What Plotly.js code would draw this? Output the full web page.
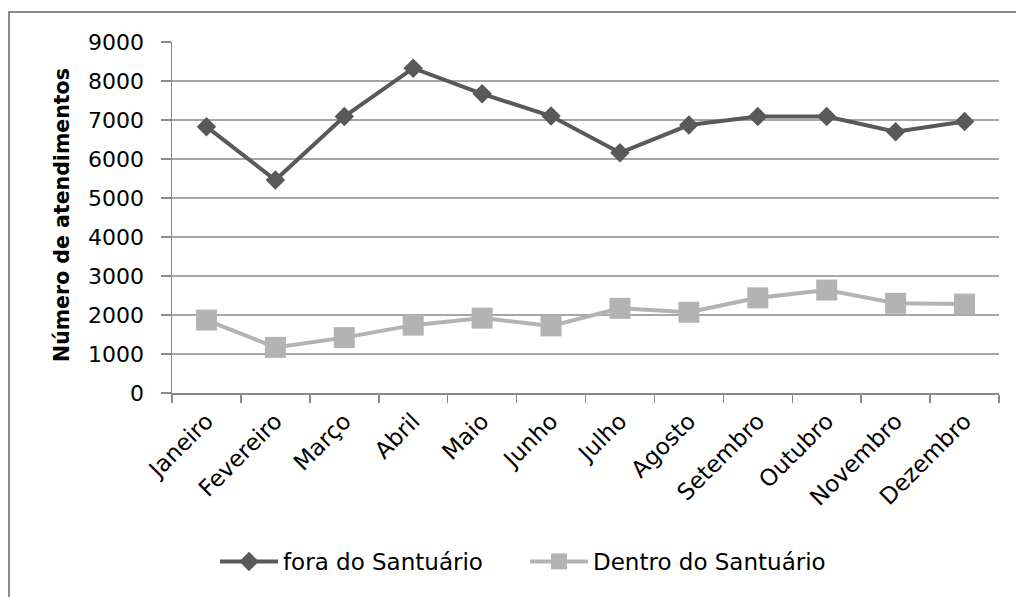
<!DOCTYPE html>
<html>
<head>
<meta charset="utf-8">
<script src="https://cdn.plot.ly/plotly-3.0.1.min.js"></script>
<style>
html, body { margin: 0; padding: 0; background: #fff; }
#wrap { position: relative; width: 1016px; height: 597px; overflow: hidden; }
#chart { width: 1016px; height: 597px; }
#frame { position: absolute; left: 8px; top: 11px; width: 1100px; height: 700px;
         border-left: 2px solid #8a8a8a; border-top: 2px solid #8a8a8a; pointer-events: none; }
</style>
</head>
<body>
<div id="wrap">
<div id="chart"></div>
<div id="frame"></div>
</div>
<script>
const months = ["Janeiro", "Fevereiro", "Março", "Abril", "Maio", "Junho", "Julho", "Agosto", "Setembro", "Outubro", "Novembro", "Dezembro"];
const foraSantuario = [6830, 5460, 7090, 8330, 7670, 7100, 6160, 6870, 7090, 7090, 6700, 6960];
const dentroSantuario = [1870, 1170, 1420, 1740, 1920, 1720, 2170, 2070, 2440, 2640, 2300, 2280];
const yTicks = [0, 1000, 2000, 3000, 4000, 5000, 6000, 7000, 8000, 9000];

const FONT = "DejaVu Sans, sans-serif";

const traces = [
  {
    x: months, y: foraSantuario, name: "fora do Santuário",
    type: "scatter", mode: "lines+markers",
    line: { color: "#595959", width: 4 },
    marker: { symbol: "diamond", size: 15, color: "#595959" }
  },
  {
    x: months, y: dentroSantuario, name: "Dentro do Santuário",
    type: "scatter", mode: "lines+markers",
    line: { color: "#b3b3b3", width: 4 },
    marker: { symbol: "square", size: 21, color: "#b3b3b3" }
  }
];

const layout = {
  width: 1016, height: 597,
  margin: { l: 172, r: 17, t: 42, b: 204, pad: 0 },
  paper_bgcolor: "#ffffff", plot_bgcolor: "#ffffff",
  font: { family: FONT, color: "#000000", size: 19 },
  showlegend: true,
  legend: {
    orientation: "h", x: (223 - 8 - 172) / 827, xanchor: "left", y: -0.48, yanchor: "middle",
    font: { family: FONT, size: 23, color: "#000000" },
    itemwidth: 58, entrywidth: 237, traceorder: "normal"
  },
  xaxis: {
    type: "category", range: [-0.5, 11.5],
    showline: true, linecolor: "#8a8a8a", linewidth: 1.5,
    ticks: "outside", tickson: "boundaries", ticklen: 8, tickcolor: "#8a8a8a", tickwidth: 1.5,
    tickangle: -45, tickfont: { family: FONT, size: 23, color: "#000" },
    ticklabelstandoff: 4, ticklabelshift: 0,
    showgrid: false, zeroline: false, automargin: false
  },
  yaxis: {
    range: [0, 9000], tickmode: "array", tickvals: yTicks, ticktext: yTicks.map(String),
    showline: true, linecolor: "#8a8a8a", linewidth: 1.5,
    ticks: "outside", ticklen: 10, tickcolor: "#8a8a8a", tickwidth: 1.5,
    ticklabelstandoff: 12,
    showgrid: true, gridcolor: "#a6a6a6", gridwidth: 1.5, zeroline: false,
    tickfont: { family: FONT, size: 22, color: "#000" }, automargin: false
  },
  annotations: [{
    text: "<b>Número de atendimentos</b>", textangle: -90,
    xref: "paper", yref: "paper", x: (62 - 172) / 827, y: (393 - 215) / 351,
    xanchor: "center", yanchor: "middle", showarrow: false,
    font: { family: FONT, size: 20.5, color: "#000" }
  }]
};

Plotly.newPlot("chart", traces, layout, { displayModeBar: false, staticPlot: true });
</script>
</body>
</html>
